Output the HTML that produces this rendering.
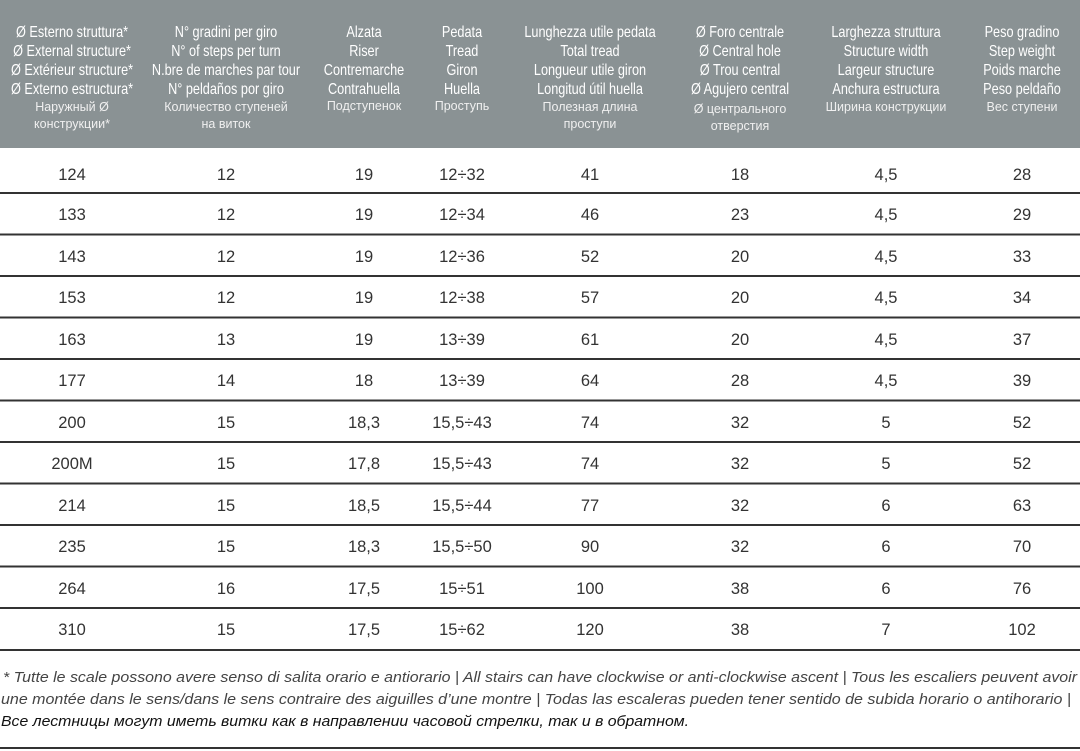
<!DOCTYPE html>
<html><head><meta charset="utf-8"><style>
html,body{margin:0;padding:0;background:#fff;}
svg{display:block;}
.h{font-family:"Liberation Sans",sans-serif;font-size:15.5px;fill:#fff;text-anchor:middle;}
.h text{transform-box:fill-box;transform-origin:center;transform:scaleX(0.82);}
.r{font-family:"Liberation Sans",sans-serif;font-size:12.5px;fill:#f0f0f0;text-anchor:middle;}
.d{font-family:"Liberation Sans",sans-serif;font-size:16.5px;fill:#333;text-anchor:middle;}
.f{font-family:"Liberation Sans",sans-serif;font-size:14.5px;font-style:italic;fill:#444;}
</style></head><body>
<svg width="1080" height="751" xmlns="http://www.w3.org/2000/svg">
<rect x="0" y="0" width="1080" height="148" fill="#8a9294"/>
<g class="h">
<text x="72" y="37">Ø Esterno struttura*</text><text x="72" y="56">Ø External structure*</text><text x="72" y="75">Ø Extérieur structure*</text><text x="72" y="94">Ø Externo estructura*</text>
<text x="226" y="37">N° gradini per giro</text><text x="226" y="56">N° of steps per turn</text><text x="226" y="75">N.bre de marches par tour</text><text x="226" y="94">N° peldaños por giro</text>
<text x="364" y="37">Alzata</text><text x="364" y="56">Riser</text><text x="364" y="75">Contremarche</text><text x="364" y="94">Contrahuella</text>
<text x="462" y="37">Pedata</text><text x="462" y="56">Tread</text><text x="462" y="75">Giron</text><text x="462" y="94">Huella</text>
<text x="590" y="37">Lunghezza utile pedata</text><text x="590" y="56">Total tread</text><text x="590" y="75">Longueur utile giron</text><text x="590" y="94">Longitud útil huella</text>
<text x="740" y="37">Ø Foro centrale</text><text x="740" y="56">Ø Central hole</text><text x="740" y="75">Ø Trou central</text><text x="740" y="94">Ø Agujero central</text>
<text x="886" y="37">Larghezza struttura</text><text x="886" y="56">Structure width</text><text x="886" y="75">Largeur structure</text><text x="886" y="94">Anchura estructura</text>
<text x="1022" y="37">Peso gradino</text><text x="1022" y="56">Step weight</text><text x="1022" y="75">Poids marche</text><text x="1022" y="94">Peso peldaño</text>
</g>
<g class="r">
<text x="72" y="111">Наружный Ø</text><text x="72" y="128">конструкции*</text>
<text x="226" y="111">Количество ступеней</text><text x="226" y="128">на виток</text>
<text x="364" y="110">Подступенок</text>
<text x="462" y="110">Проступь</text>
<text x="590" y="111">Полезная длина</text><text x="590" y="128">проступи</text>
<text x="740" y="113">Ø центрального</text><text x="740" y="130">отверстия</text>
<text x="886" y="111">Ширина конструкции</text>
<text x="1022" y="111">Вес ступени</text>
</g>
<g stroke="#333" stroke-width="2">
<line x1="0" y1="193" x2="1080" y2="193"/><line x1="0" y1="234.5" x2="1080" y2="234.5"/><line x1="0" y1="276" x2="1080" y2="276"/><line x1="0" y1="317.5" x2="1080" y2="317.5"/><line x1="0" y1="359" x2="1080" y2="359"/><line x1="0" y1="400.5" x2="1080" y2="400.5"/><line x1="0" y1="442" x2="1080" y2="442"/><line x1="0" y1="483.5" x2="1080" y2="483.5"/><line x1="0" y1="525" x2="1080" y2="525"/><line x1="0" y1="566.5" x2="1080" y2="566.5"/><line x1="0" y1="608" x2="1080" y2="608"/><line x1="0" y1="650" x2="1080" y2="650"/><line x1="0" y1="748" x2="1080" y2="748"/>
</g>
<g class="d">
<text y="180"><tspan x="72">124</tspan><tspan x="226">12</tspan><tspan x="364">19</tspan><tspan x="462">12÷32</tspan><tspan x="590">41</tspan><tspan x="740">18</tspan><tspan x="886">4,5</tspan><tspan x="1022">28</tspan></text>
<text y="220"><tspan x="72">133</tspan><tspan x="226">12</tspan><tspan x="364">19</tspan><tspan x="462">12÷34</tspan><tspan x="590">46</tspan><tspan x="740">23</tspan><tspan x="886">4,5</tspan><tspan x="1022">29</tspan></text>
<text y="262"><tspan x="72">143</tspan><tspan x="226">12</tspan><tspan x="364">19</tspan><tspan x="462">12÷36</tspan><tspan x="590">52</tspan><tspan x="740">20</tspan><tspan x="886">4,5</tspan><tspan x="1022">33</tspan></text>
<text y="303"><tspan x="72">153</tspan><tspan x="226">12</tspan><tspan x="364">19</tspan><tspan x="462">12÷38</tspan><tspan x="590">57</tspan><tspan x="740">20</tspan><tspan x="886">4,5</tspan><tspan x="1022">34</tspan></text>
<text y="345"><tspan x="72">163</tspan><tspan x="226">13</tspan><tspan x="364">19</tspan><tspan x="462">13÷39</tspan><tspan x="590">61</tspan><tspan x="740">20</tspan><tspan x="886">4,5</tspan><tspan x="1022">37</tspan></text>
<text y="386"><tspan x="72">177</tspan><tspan x="226">14</tspan><tspan x="364">18</tspan><tspan x="462">13÷39</tspan><tspan x="590">64</tspan><tspan x="740">28</tspan><tspan x="886">4,5</tspan><tspan x="1022">39</tspan></text>
<text y="428"><tspan x="72">200</tspan><tspan x="226">15</tspan><tspan x="364">18,3</tspan><tspan x="462">15,5÷43</tspan><tspan x="590">74</tspan><tspan x="740">32</tspan><tspan x="886">5</tspan><tspan x="1022">52</tspan></text>
<text y="469"><tspan x="72">200M</tspan><tspan x="226">15</tspan><tspan x="364">17,8</tspan><tspan x="462">15,5÷43</tspan><tspan x="590">74</tspan><tspan x="740">32</tspan><tspan x="886">5</tspan><tspan x="1022">52</tspan></text>
<text y="511"><tspan x="72">214</tspan><tspan x="226">15</tspan><tspan x="364">18,5</tspan><tspan x="462">15,5÷44</tspan><tspan x="590">77</tspan><tspan x="740">32</tspan><tspan x="886">6</tspan><tspan x="1022">63</tspan></text>
<text y="552"><tspan x="72">235</tspan><tspan x="226">15</tspan><tspan x="364">18,3</tspan><tspan x="462">15,5÷50</tspan><tspan x="590">90</tspan><tspan x="740">32</tspan><tspan x="886">6</tspan><tspan x="1022">70</tspan></text>
<text y="594"><tspan x="72">264</tspan><tspan x="226">16</tspan><tspan x="364">17,5</tspan><tspan x="462">15÷51</tspan><tspan x="590">100</tspan><tspan x="740">38</tspan><tspan x="886">6</tspan><tspan x="1022">76</tspan></text>
<text y="635"><tspan x="72">310</tspan><tspan x="226">15</tspan><tspan x="364">17,5</tspan><tspan x="462">15÷62</tspan><tspan x="590">120</tspan><tspan x="740">38</tspan><tspan x="886">7</tspan><tspan x="1022">102</tspan></text>
</g>
<text class="f" x="3" y="682" textLength="1074" lengthAdjust="spacingAndGlyphs">* Tutte le scale possono avere senso di salita orario e antiorario | All stairs can have clockwise or anti-clockwise ascent | Tous les escaliers peuvent avoir</text>
<text class="f" x="1" y="704" textLength="1070" lengthAdjust="spacingAndGlyphs">une montée dans le sens/dans le sens contraire des aiguilles d’une montre | Todas las escaleras pueden tener sentido de subida horario o antihorario |</text>
<text class="f" x="1" y="726" textLength="688" lengthAdjust="spacingAndGlyphs" style="fill:#111">Все лестницы могут иметь витки как в направлении часовой стрелки, так и в обратном.</text>
</svg>
</body></html>
